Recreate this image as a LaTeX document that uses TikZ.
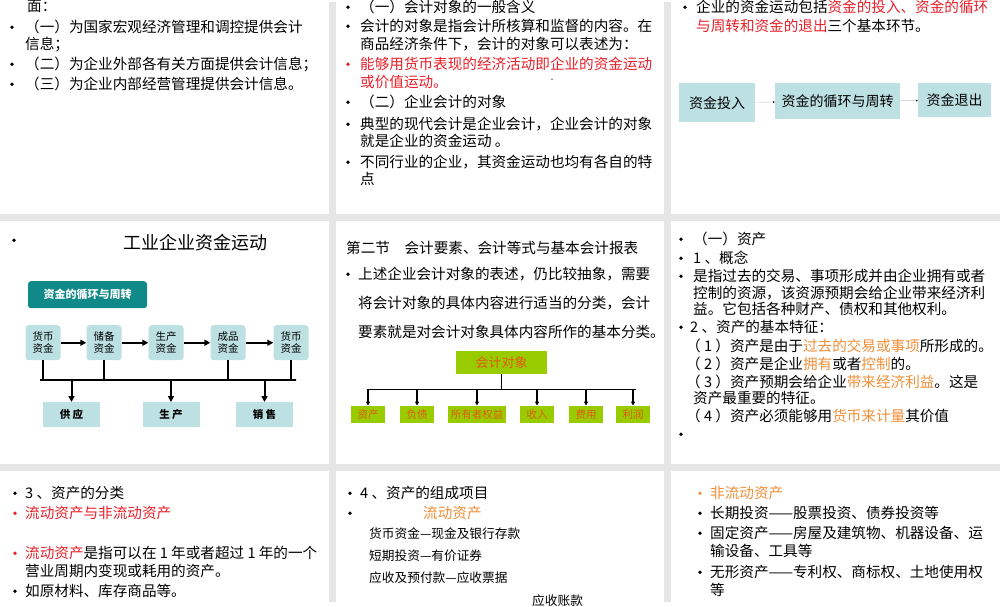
\documentclass[tikz,border=0pt]{standalone}
\usepackage{fontspec}
\setmainfont{Noto Sans CJK SC}
\usetikzlibrary{arrows.meta}
\definecolor{bg}{HTML}{E6E6E6}
\definecolor{rd}{HTML}{E8202A}
\definecolor{og}{HTML}{F0903A}
\definecolor{tl}{HTML}{BDE0E3}
\definecolor{dteal}{HTML}{108A88}
\definecolor{gr}{HTML}{99CC00}
\definecolor{ogt}{HTML}{E05A10}
\newcommand{\bu}[2]{\fill (#1,#2) circle (1.9);}
\newcommand{\tx}[3]{\node[txt] at (#1,#2) {#3};}
\begin{document}
\begin{tikzpicture}[x=1pt,y=-1pt,
 txt/.style={anchor=west,inner sep=0pt,font=\fontsize{14.6}{16}\selectfont},
 sm/.style={anchor=west,inner sep=0pt,font=\fontsize{12.7}{14}\selectfont},
 cbox/.style={fill=tl,inner sep=0pt,font=\fontsize{14}{16}\selectfont},
 gbox/.style={fill=gr,inner sep=0pt,minimum height=17pt,text=ogt,font=\fontsize{10.5}{12}\selectfont},
 tarr/.style={-{Triangle[length=6pt,width=6pt]},line width=2pt},
 karr/.style={-{Triangle[length=4pt,width=4pt]},line width=1.1pt}
]
\fill[bg] (0,0) rectangle (1000,600);
\foreach \x/\w in {0/329,336/664,671/1000}{
 \fill[white] (\x,0) rectangle (\w,212);
 \fill[white] (\x,219) rectangle (\w,462);
 \fill[white] (\x,469) rectangle (\w,600);}
% ---- top left
\tx{27}{4}{面：}
\bu{12}{25}\tx{25}{25}{（一）为国家宏观经济管理和调控提供会计}
\tx{25}{42}{信息；}
\bu{12}{62}\tx{25}{62}{（二）为企业外部各有关方面提供会计信息；}
\bu{12}{82}\tx{25}{82}{（三）为企业内部经营管理提供会计信息。}
% ---- top middle
\bu{348}{5}\tx{360}{5}{（一）会计对象的一般含义}
\bu{348}{24}\tx{360}{24}{会计的对象是指会计所核算和监督的内容。在}
\tx{360}{42}{商品经济条件下，会计的对象可以表述为：}
\fill[rd] (348,62) circle (1.9);
\node[txt,text=rd] at (360,62) {能够用货币表现的经济活动即企业的资金运动};
\node[txt,text=rd] at (360,80) {或价值运动。};
\fill (552,77) circle (0.6);
\bu{348}{100}\tx{360}{100}{（二）企业会计的对象}
\bu{348}{122}\tx{360}{122}{典型的现代会计是企业会计，企业会计的对象}
\tx{360}{139}{就是企业的资金运动 。}
\bu{348}{160}\tx{360}{160}{不同行业的企业，其资金运动也均有各自的特}
\tx{360}{177}{点}
% ---- top right
\bu{685}{5}\node[txt] at (696,5) {企业的资金运动包括\textcolor{rd}{资金的投入、资金的循环}};
\node[txt] at (696,24) {\textcolor{rd}{与周转和资金的退出}三个基本环节。};
\node[cbox,minimum width=76pt,minimum height=39pt] (ci) at (717,100.5) {资金投入};
\node[cbox,minimum width=125pt,minimum height=36pt] (cc) at (837.5,99) {资金的循环与周转};
\node[cbox,minimum width=73pt,minimum height=34pt] (co) at (954.5,98) {资金退出};
\draw[gray!50,-{Stealth[length=2pt,width=2pt,color=black]}] (ci) -- (cc);
\draw[gray!50,-{Stealth[length=2pt,width=2pt,color=black]}] (cc) -- (co);
% ---- middle left
\bu{14}{238}
\node[font=\fontsize{18}{20}\selectfont,inner sep=0pt] (ttl) at (195,240) {工业企业资金运动};
\node[fill=dteal,text=white,rounded corners=3pt,minimum width=119pt,minimum height=27pt,inner sep=0pt,font=\bfseries\fontsize{11}{13}\selectfont] (cyc) at (87.5,292.5) {资金的循环与周转};
\foreach \n/\x/\t in {a/43/货币\\资金,b/104/储备\\资金,c/166/生产\\资金,d/228/成品\\资金,e/291/货币\\资金}
  \node[fill=tl,rounded corners=3pt,minimum width=35pt,minimum height=35pt,inner sep=0pt,align=center,font=\fontsize{10.5}{12}\selectfont] (\n) at (\x,340.5) {\t};
\foreach \p/\q in {a/b,b/c,c/d,d/e} \draw[tarr] (\p) -- (\q);
\foreach \n/\x/\t in {s1/71.5/供\ 应,s2/171/生\ 产,s3/264.5/销\ 售}
  \node[fill=tl,minimum width=57pt,minimum height=25pt,inner sep=0pt,font=\bfseries\fontsize{10.5}{12}\selectfont] (\n) at (\x,412.5) {\t};
\coordinate (hl) at (40,378);\coordinate (hr) at (296,378);
\draw[line width=1.8pt] (a.south) |- (hl) -- (hr) -| (e.south);
\draw[line width=1.8pt] (b.south) -- (b.south|-hl);
\draw[line width=1.8pt] (d.south) -- (d.south|-hl);
\foreach \n in {s1,s2,s3} \draw[tarr] (\n.north|-hl) -- (\n.north);
% ---- middle centre
\tx{346}{246}{第二节\quad 会计要素、会计等式与基本会计报表}
\bu{348}{272}\tx{358}{272}{上述企业会计对象的表述，仍比较抽象，需要}
\tx{358}{301}{将会计对象的具体内容进行适当的分类，会计}
\tx{358}{330}{要素就是对会计对象具体内容所作的基本分类。}
\node[gbox,minimum width=91pt,minimum height=23pt,font=\fontsize{13}{15}\selectfont] (ko) at (501.5,360.5) {会计对象};
\coordinate (kl) at (367,387);\coordinate (kr) at (636,387);
\draw[line width=1.1pt] (ko.south) -- (ko.south|-kl);
\draw[line width=1.1pt] (kl) -- (kr);
\foreach \n/\x/\w/\t in {k1/368/34/资产,k2/417/34/负债,k3/477/58/所有者权益,k4/537/34/收入,k5/586/34/费用,k6/633/34/利润}{
  \node[gbox,minimum width=\w pt] (\n) at (\x,412) {\t};
  \draw[karr] (\n.north|-kl) -- (\n.north);}
% ---- middle right
\bu{681}{237}\tx{693}{237}{（一）资产}
\bu{681}{256}\tx{693}{256}{1 、概念}
\bu{681}{274}\tx{693}{274}{是指过去的交易、事项形成并由企业拥有或者}
\tx{693}{291}{控制的资源，该资源预期会给企业带来经济利}
\tx{693}{307}{益。它包括各种财产、债权和其他权利。}
\bu{681}{325}\tx{690}{325}{2 、资产的基本特征：}
\tx{686}{344}{（ 1 ）资产是由于\textcolor{og}{过去的交易或事项}所形成的。}
\tx{686}{362}{（ 2 ）资产是企业\textcolor{og}{拥有}或者\textcolor{og}{控制}的。}
\tx{686}{380}{（ 3 ）资产预期会给企业\textcolor{og}{带来经济利益}。这是}
\tx{693}{396}{资产最重要的特征。}
\tx{686}{414}{（ 4 ）资产必须能够用\textcolor{og}{货币来计量}其价值}
\bu{681}{432}
% ---- bottom left
\bu{15}{491}\tx{25}{491}{3 、资产的分类}
\fill[rd] (15,511) circle (1.9);\node[txt,text=rd] at (25,511) {流动资产与非流动资产};
\fill[rd] (15,551) circle (1.9);\node[txt] at (25,551) {\textcolor{rd}{流动资产}是指可以在 1 年或者超过 1 年的一个};
\tx{25}{569}{营业周期内变现或耗用的资产。}
\bu{15}{589}\tx{25}{589}{如原材料、库存商品等。}
% ---- bottom middle
\bu{350}{491}\tx{360}{491}{4 、资产的组成项目}
\bu{350}{511}\node[txt,text=og] at (423,511) {流动资产};
\node[sm] at (369,531) {货币资金—现金及银行存款};
\node[sm] at (369,553) {短期投资—有价证券};
\node[sm] at (369,575) {应收及预付款—应收票据};
\node[sm] at (532,598) {应收账款};
% ---- bottom right
\fill[og] (700,491) circle (1.9);\node[txt,text=og] at (710,491) {非流动资产};
\bu{700}{511}\tx{710}{511}{长期投资——股票投资、债券投资等}
\bu{700}{531}\tx{710}{531}{固定资产——房屋及建筑物、机器设备、运}
\tx{710}{549}{输设备、工具等}
\bu{700}{570}\tx{710}{570}{无形资产——专利权、商标权、土地使用权}
\tx{710}{588}{等}
\useasboundingbox (0,0) rectangle (1000,600);
\end{tikzpicture}
\end{document}
